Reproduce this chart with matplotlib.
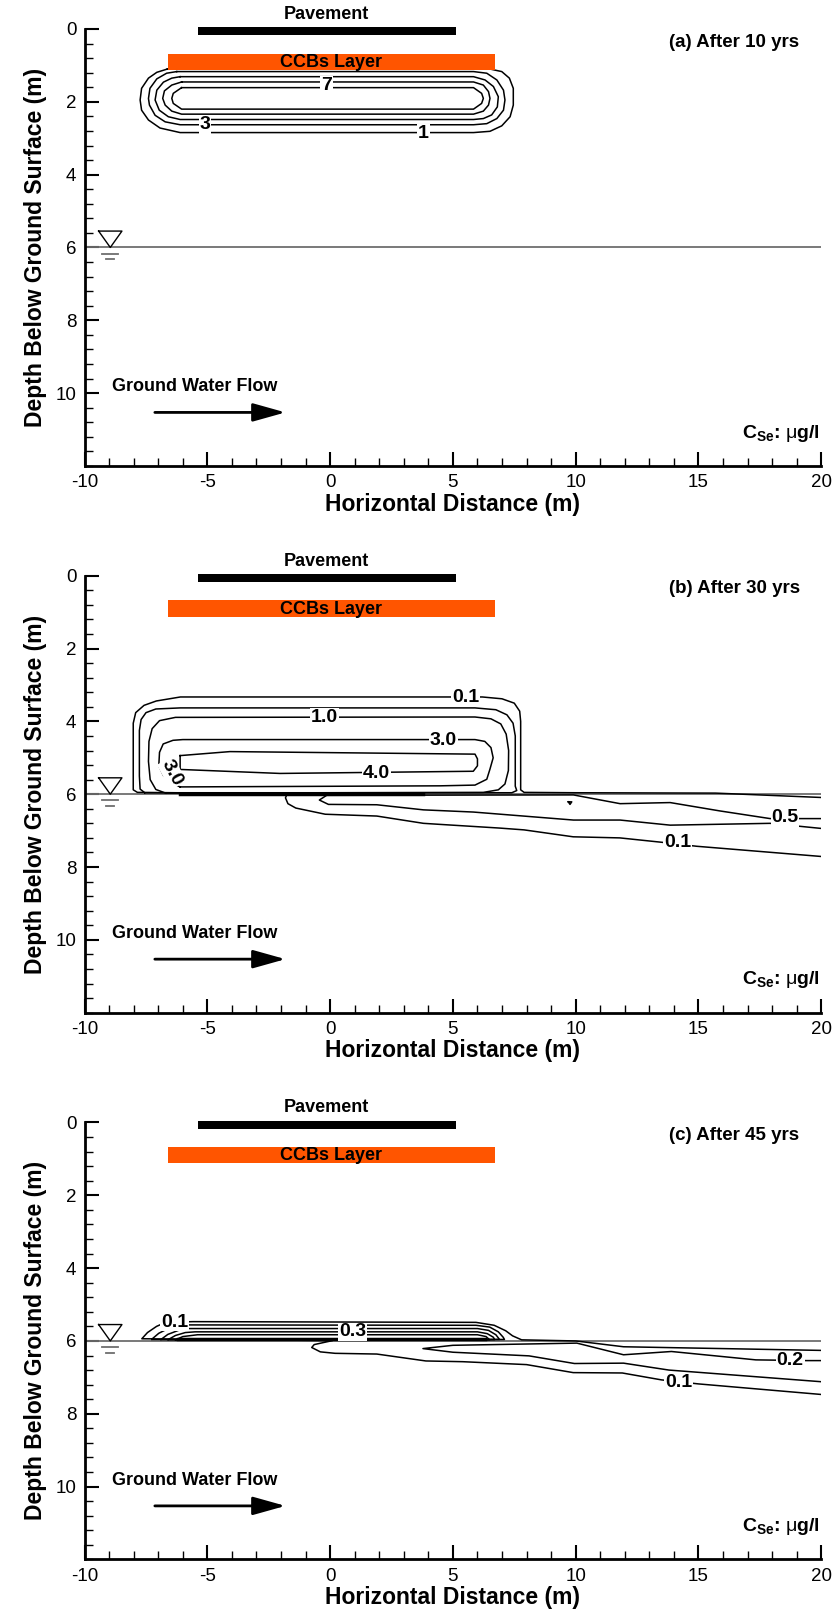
import matplotlib
matplotlib.use("Agg")
import matplotlib.pyplot as plt
import numpy as np

plt.rcParams['font.family'] = ['Liberation Sans', 'DejaVu Sans']
plt.rcParams['mathtext.fontset'] = 'custom'
plt.rcParams['mathtext.rm'] = 'Liberation Sans'
plt.rcParams['mathtext.bf'] = 'Liberation Sans:bold'
plt.rcParams['mathtext.it'] = 'Liberation Sans:italic'
plt.rcParams['axes.unicode_minus'] = False

# layers (x from, x to, y top, y bottom) in metres
pavement = [-5.4, 5.13, -0.05, 0.17]
ccb_layer = [-6.62, 6.72, 0.68, 1.12]
water_table = 6.0
flow_arrow = [-7.14, -1.82, 10.53]

x_ticks = [-10, -5, 0, 5, 10, 15, 20]
y_ticks = [0, 2, 4, 6, 8, 10]
panel_titles = ["(a) After 10 yrs", "(b) After 30 yrs", "(c) After 45 yrs"]

# ---- panel (a): contour lines after 10 yrs (x, y)
a_c1 = [(-6.63, 1.10), (6.51, 1.10), (6.99, 1.17), (7.30, 1.35), (7.46, 1.63), (7.46, 2.09),
        (7.33, 2.41), (6.99, 2.66), (6.51, 2.81), (5.84, 2.845), (-6.11, 2.845), (-6.93, 2.72),
        (-7.40, 2.50), (-7.68, 2.23), (-7.74, 1.95), (-7.68, 1.63), (-7.40, 1.35), (-7.06, 1.19),
        (-6.63, 1.10)]
a_c3 = [(-6.25, 1.17), (5.84, 1.17), (6.38, 1.215), (6.79, 1.40), (7.06, 1.68), (7.12, 1.95),
        (7.06, 2.23), (6.79, 2.46), (6.38, 2.60), (5.84, 2.63), (-6.11, 2.63), (-6.72, 2.55),
        (-7.13, 2.37), (-7.36, 2.09), (-7.40, 1.91), (-7.34, 1.63), (-7.06, 1.37), (-6.66, 1.215),
        (-6.25, 1.17)]
a_c5 = [(-6.11, 1.31), (5.84, 1.31), (6.31, 1.40), (6.65, 1.58), (6.85, 1.86), (6.81, 2.14),
        (6.58, 2.36), (6.24, 2.46), (5.84, 2.486), (-6.11, 2.486), (-6.59, 2.41), (-6.96, 2.23),
        (-7.13, 1.95), (-7.06, 1.68), (-6.79, 1.46), (-6.45, 1.35), (-6.11, 1.31)]
a_c7 = [(-6.05, 1.455), (5.84, 1.455), (6.24, 1.54), (6.45, 1.72), (6.51, 1.906), (6.45, 2.09),
        (6.24, 2.256), (5.84, 2.339), (-6.05, 2.339), (-6.45, 2.256), (-6.72, 2.09), (-6.82, 1.906),
        (-6.75, 1.70), (-6.45, 1.54), (-6.05, 1.455)]
a_c9 = [(-6.05, 1.611), (5.84, 1.611), (6.17, 1.768), (6.24, 1.906), (6.17, 2.044), (5.84, 2.201),
        (-6.05, 2.201), (-6.39, 2.044), (-6.45, 1.906), (-6.39, 1.768), (-6.05, 1.611)]
a_labels = [("7", -0.14, 1.54, 0), ("3", -5.1, 2.62, 0), ("1", 3.8, 2.86, 0)]

# ---- panel (b): contour lines after 30 yrs
b_c01 = [(20.0, 6.09), (15.7, 5.97), (10.0, 5.96), (7.9, 5.95), (7.76, 5.88), (7.76, 4.0),
         (7.72, 3.72), (7.5, 3.5), (7.0, 3.38), (6.2, 3.33), (-6.1, 3.33), (-7.08, 3.44),
         (-7.58, 3.56), (-7.92, 3.76), (-8.02, 4.05), (-8.02, 5.88), (-7.85, 5.95), (-1.75, 5.99),
         (-1.82, 6.1), (-1.72, 6.26), (-1.4, 6.38), (-0.2, 6.55), (1.9, 6.6), (3.8, 6.8),
         (4.5, 6.83), (6.9, 6.93), (7.9, 6.98), (9.9, 7.17), (11.8, 7.2), (13.5, 7.32),
         (14.93, 7.43), (20.0, 7.71)]
b_c05 = [(-7.55, 5.96), (-7.74, 5.86), (-7.77, 5.5), (-7.77, 4.25), (-7.7, 3.95), (-7.5, 3.76),
         (-7.1, 3.66), (-6.1, 3.63), (5.9, 3.63), (6.75, 3.68), (7.2, 3.82), (7.45, 4.05),
         (7.54, 4.4), (7.54, 5.78), (7.6, 5.9), (7.4, 5.96), (-7.55, 5.96)]
b_c10 = [(-6.7, 5.97), (-7.1, 5.87), (-7.33, 5.6), (-7.4, 5.1), (-7.38, 4.55), (-7.25, 4.2),
         (-6.95, 3.98), (-6.3, 3.89), (5.9, 3.88), (6.55, 3.93), (6.95, 4.07), (7.17, 4.35),
         (7.27, 4.8), (7.26, 5.35), (7.12, 5.72), (6.85, 5.88), (6.24, 5.95), (-6.7, 5.97)]
b_c30 = [(-6.11, 5.80), (-6.39, 5.72), (-6.79, 5.49), (-6.98, 5.22), (-6.95, 4.85), (-6.8, 4.62),
         (-6.4, 4.52), (-6.0, 4.5), (5.9, 4.5), (6.3, 4.55), (6.55, 4.72), (6.64, 5.0),
         (6.51, 5.31), (6.38, 5.59), (5.9, 5.75), (4.48, 5.77), (-6.11, 5.80)]
b_c40 = [(-6.11, 4.94), (-4.08, 4.83), (5.9, 4.9), (6.0, 5.03), (6.0, 5.22), (5.83, 5.37),
         (4.48, 5.38), (-2.04, 5.43), (-6.11, 5.32), (-6.11, 4.94)]
b_plume05 = [(20.0, 6.67), (19.28, 6.67), (17.92, 6.67), (15.88, 6.46), (13.85, 6.23),
             (11.81, 6.26), (9.91, 6.02), (-0.14, 6.03), (-0.44, 6.16), (-0.07, 6.28),
             (1.9, 6.29), (3.8, 6.43), (5.83, 6.49), (9.91, 6.71), (11.81, 6.71), (13.85, 6.85),
             (17.92, 6.8), (20.0, 6.94)]
b_speck = [(9.70, 6.21), (9.84, 6.21), (9.77, 6.28), (9.70, 6.21)]
b_band = [(-6.1, 5.985), (3.8, 5.985)]
b_labels = [("0.1", 5.52, 3.35, 0), ("1.0", -0.24, 3.9, 0), ("3.0", 4.62, 4.52, 0),
            ("4.0", 1.9, 5.43, 0), ("3.0", -6.45, 5.42, -62), ("0.5", 18.53, 6.64, 0),
            ("0.1", 14.15, 7.33, 0)]

# ---- panel (c): contour lines after 45 yrs
c_c01 = [(20.0, 6.26), (11.95, 6.16), (10.0, 6.0), (7.8, 5.97), (7.43, 5.86), (7.15, 5.72),
         (6.68, 5.57), (5.94, 5.49), (-5.58, 5.47), (-6.7, 5.49), (-7.07, 5.6), (-7.44, 5.77),
         (-7.67, 5.94), (0.1, 5.99), (-0.65, 6.1), (-0.75, 6.18), (-0.4, 6.3), (0.2, 6.34),
         (1.9, 6.36), (3.9, 6.55), (5.4, 6.57), (8.0, 6.65), (9.9, 6.87), (11.9, 6.88),
         (13.5, 7.07), (15.0, 7.18), (20.0, 7.47)]
c_c02 = [(-7.26, 5.95), (-6.98, 5.79), (-6.51, 5.63), (-5.77, 5.56), (5.94, 5.57), (6.5, 5.62),
         (6.85, 5.75), (7.05, 5.9), (7.1, 5.96), (-7.26, 5.96)]
c_c03 = [(-6.89, 5.96), (-6.61, 5.82), (-6.14, 5.7), (-5.77, 5.66), (6.0, 5.66), (6.45, 5.71),
         (6.75, 5.83), (6.9, 5.96), (-6.89, 5.96)]
c_c04 = [(-6.6, 5.965), (-6.3, 5.85), (-5.9, 5.77), (-5.5, 5.75), (6.0, 5.75), (6.4, 5.8),
         (6.65, 5.9), (6.7, 5.965), (-6.6, 5.965)]
c_c05 = [(-6.3, 5.97), (-6.0, 5.88), (-5.4, 5.83), (6.0, 5.83), (6.35, 5.88), (6.5, 5.97),
         (-6.3, 5.97)]
c_plume02 = [(20.0, 6.54), (19.4, 6.54), (17.34, 6.52), (13.9, 6.29), (11.95, 6.38),
             (10.05, 6.06), (5.0, 6.12), (3.78, 6.21), (5.0, 6.31), (8.1, 6.41), (9.95, 6.62),
             (11.95, 6.61), (13.8, 6.8), (20.0, 7.12)]
c_band = [(-6.2, 5.955), (6.3, 5.955)]
c_labels = [("0.1", -6.33, 5.48, 0), ("0.3", 0.92, 5.75, 0), ("0.2", 18.74, 6.53, 0),
            ("0.1", 14.2, 7.15, 0)]

panel_lines = [
    [a_c1, a_c3, a_c5, a_c7, a_c9],
    [b_c01, b_c05, b_c10, b_c30, b_c40, b_plume05, b_speck],
    [c_c01, c_c02, c_c03, c_c04, c_c05, c_plume02],
]
panel_bands = [[], [b_band], [c_band]]
panel_labels = [a_labels, b_labels, c_labels]

fig = plt.figure(figsize=(8.33, 16.19), dpi=100)
bottoms = [0.7122, 0.3745, 0.0368]
ax_h = 0.2699


def draw_panel(ax, title, lines, bands, labels):
    ax.set_xlim(-10, 20)
    ax.set_ylim(12, 0)
    for s in ['top', 'right']:
        ax.spines[s].set_visible(False)
    for s in ['left', 'bottom']:
        ax.spines[s].set_linewidth(2)

    ax.set_xticks(x_ticks)
    ax.set_yticks(y_ticks)
    ax.set_xticks(np.arange(-10, 20.1, 1), minor=True)
    ax.set_yticks(np.arange(0, 12.01, 0.4), minor=True)
    ax.tick_params(which='major', direction='in', length=10, width=1.5, labelsize=13.5, pad=6)
    ax.tick_params(which='minor', direction='in', length=6, width=1)

    ax.set_xlabel("Horizontal Distance (m)", fontsize=16.5, fontweight='bold', labelpad=1)
    ax.set_ylabel("Depth Below Ground Surface (m)", fontsize=16.5, fontweight='bold', labelpad=6)

    # pavement and CCB layer
    ax.barh((pavement[2] + pavement[3]) / 2, pavement[1] - pavement[0], left=pavement[0],
            height=pavement[3] - pavement[2], color='black', clip_on=False, zorder=4)
    ax.text((pavement[0] + pavement[1]) / 2, pavement[2] - 0.12, "Pavement", ha='center',
            va='bottom', fontsize=13, fontweight='bold')
    ax.barh((ccb_layer[2] + ccb_layer[3]) / 2, ccb_layer[1] - ccb_layer[0], left=ccb_layer[0],
            height=ccb_layer[3] - ccb_layer[2], color='#ff5500', zorder=4)
    ax.text((ccb_layer[0] + ccb_layer[1]) / 2, 0.92, "CCBs Layer", ha='center', va='center',
            fontsize=13, fontweight='bold', zorder=5)

    ax.text(13.8, 0.36, title, ha='left', va='center', fontsize=13.5, fontweight='bold')

    # water table
    ax.plot([-10, 20], [water_table, water_table], color='#6e6e6e', lw=1.3, zorder=2)
    ax.plot([-9.43, -8.48, -8.955, -9.43], [5.55, 5.55, water_table, 5.55], color='black', lw=1)
    ax.plot([-9.3, -8.65], [6.17, 6.17], color='#6e6e6e', lw=1.3)
    ax.plot([-9.12, -8.82], [6.33, 6.33], color='#6e6e6e', lw=1.3)

    # contours
    for ln in lines:
        xs, ys = zip(*ln)
        ax.plot(xs, ys, color='black', lw=1.1, zorder=3)
    for ln in bands:
        xs, ys = zip(*ln)
        ax.plot(xs, ys, color='black', lw=2.5, zorder=3)
    for txt, x, y, rot in labels:
        ax.text(x, y, txt, ha='center', va='center', fontsize=14, fontweight='bold',
                rotation=rot, zorder=6,
                bbox=dict(facecolor='white', edgecolor='none', pad=0.6))

    # ground water flow
    ax.text(-8.9, 9.83, "Ground Water Flow", ha='left', va='center', fontsize=13,
            fontweight='bold')
    ax.annotate("", xy=(flow_arrow[1], flow_arrow[2]), xytext=(flow_arrow[0], flow_arrow[2]),
                arrowprops=dict(arrowstyle='-|>,head_length=1.0,head_width=0.28', lw=2,
                                color='black', mutation_scale=20, shrinkA=0, shrinkB=0))

    ax.text(19.95, 11.1, r'$\mathbf{C_{Se}}$: $\mathrm{\mu}$g/l', ha='right', va='center',
            fontsize=14, fontweight='bold')


for i in range(3):
    ax = fig.add_axes([0.1016, bottoms[i], 0.8842, ax_h])
    draw_panel(ax, panel_titles[i], panel_lines[i], panel_bands[i], panel_labels[i])

fig.savefig("out.png", dpi=100)
